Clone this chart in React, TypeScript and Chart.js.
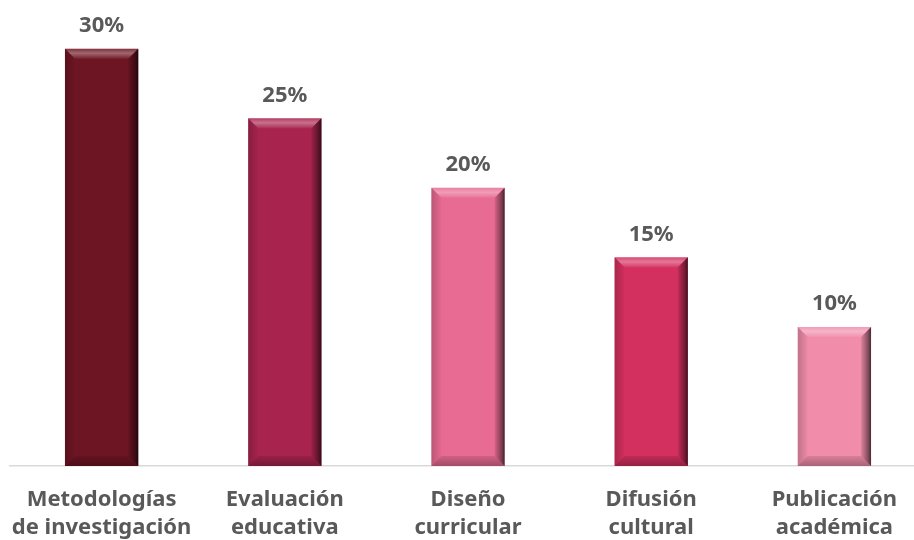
import React, { useEffect, useRef } from "react";
import { Chart, registerables } from "chart.js";

Chart.register(...registerables);

const categories: string[][] = [
  ["Metodologías", "de investigación"],
  ["Evaluación", "educativa"],
  ["Diseño", "curricular"],
  ["Difusión", "cultural"],
  ["Publicación", "académica"],
];
const values: number[] = [30, 25, 20, 15, 10];
const barColors: string[] = ["#6E1523", "#A8244F", "#E86B93", "#D4305F", "#F18DAB"];

const TEXT = "#595959";
const FONT = "'Noto Sans', 'Open Sans', sans-serif";

const bevelPlugin = {
  id: "bevel",
  afterDatasetsDraw(chart: any) {
    const ctx = chart.ctx;
    const meta = chart.getDatasetMeta(0);
    meta.data.forEach((el: any) => {
      const p = el.getProps(["x", "y", "base", "width"], true);
      const l = p.x - p.width / 2;
      const r = p.x + p.width / 2;
      const t = p.y;
      const b = p.base;
      const s = 10;
      ctx.save();
      let g = ctx.createLinearGradient(0, t, 0, t + s);
      g.addColorStop(0, "rgba(255,255,255,0.12)");
      g.addColorStop(0.45, "rgba(255,255,255,0.35)");
      g.addColorStop(1, "rgba(255,255,255,0.05)");
      ctx.fillStyle = g;
      ctx.beginPath();
      ctx.moveTo(l, t); ctx.lineTo(r, t); ctx.lineTo(r - s, t + s); ctx.lineTo(l + s, t + s); ctx.closePath();
      ctx.fill();
      g = ctx.createLinearGradient(l, 0, l + s, 0);
      g.addColorStop(0, "rgba(0,0,0,0.2)");
      g.addColorStop(1, "rgba(0,0,0,0.02)");
      ctx.fillStyle = g;
      ctx.beginPath();
      ctx.moveTo(l, t); ctx.lineTo(l + s, t + s); ctx.lineTo(l + s, b - s); ctx.lineTo(l, b); ctx.closePath();
      ctx.fill();
      g = ctx.createLinearGradient(r - s, 0, r, 0);
      g.addColorStop(0, "rgba(0,0,0,0.08)");
      g.addColorStop(0.7, "rgba(0,0,0,0.45)");
      g.addColorStop(1, "rgba(0,0,0,0.7)");
      ctx.fillStyle = g;
      ctx.beginPath();
      ctx.moveTo(r, t); ctx.lineTo(r, b); ctx.lineTo(r - s, b - s); ctx.lineTo(r - s, t + s); ctx.closePath();
      ctx.fill();
      g = ctx.createLinearGradient(0, b - s, 0, b);
      g.addColorStop(0, "rgba(0,0,0,0.1)");
      g.addColorStop(1, "rgba(0,0,0,0.3)");
      ctx.fillStyle = g;
      ctx.beginPath();
      ctx.moveTo(l, b); ctx.lineTo(r, b); ctx.lineTo(r - s, b - s); ctx.lineTo(l + s, b - s); ctx.closePath();
      ctx.fill();
      ctx.restore();
    });
  },
};

const labelPlugin = {
  id: "valueLabels",
  afterDatasetsDraw(chart: any) {
    const ctx = chart.ctx;
    const meta = chart.getDatasetMeta(0);
    ctx.save();
    ctx.font = `bold 22px ${FONT}`;
    ctx.fillStyle = TEXT;
    ctx.textAlign = "center";
    ctx.textBaseline = "middle";
    meta.data.forEach((el: any, i: number) => {
      const p = el.getProps(["x", "y"], true);
      ctx.fillText(`${values[i]}%`, p.x, p.y - 23);
    });
    ctx.restore();
  },
};

export default function App() {
  const ref = useRef<HTMLCanvasElement>(null);
  useEffect(() => {
    if (!ref.current) return;
    const chart = new Chart(ref.current, {
      type: "bar",
      data: {
        labels: categories as any,
        datasets: [
          {
            data: values,
            backgroundColor: barColors,
            borderWidth: 0,
            barPercentage: 0.4,
            categoryPercentage: 1,
          },
        ],
      },
      options: {
        animation: false,
        responsive: true,
        maintainAspectRatio: false,
        layout: { padding: { left: 10, right: 4, top: 7, bottom: 0 } },
        plugins: { legend: { display: false }, tooltip: { enabled: false } },
        scales: {
          y: { display: false, min: 0, max: 33 },
          x: {
            grid: { display: false, drawTicks: false },
            border: { display: true, color: "#D9D9D9", width: 1.5 },
            afterFit: (scale: any) => {
              scale.height = 74;
              scale.paddingLeft = 0;
              scale.paddingRight = 0;
            },
            ticks: {
              color: TEXT,
              font: { family: FONT, size: 22, weight: "bold", lineHeight: "28px" },
              padding: 20,
              maxRotation: 0,
              autoSkip: false,
            },
          },
        },
      },
      plugins: [bevelPlugin, labelPlugin],
    });
    return () => chart.destroy();
  }, []);
  return (
    <div style={{ position: "fixed", left: 0, top: 0, width: 914, height: 540, overflow: "hidden", background: "#fff" }}>
      <div style={{ position: "relative", width: 930, height: 540 }}>
        <canvas ref={ref} />
      </div>
    </div>
  );
}
